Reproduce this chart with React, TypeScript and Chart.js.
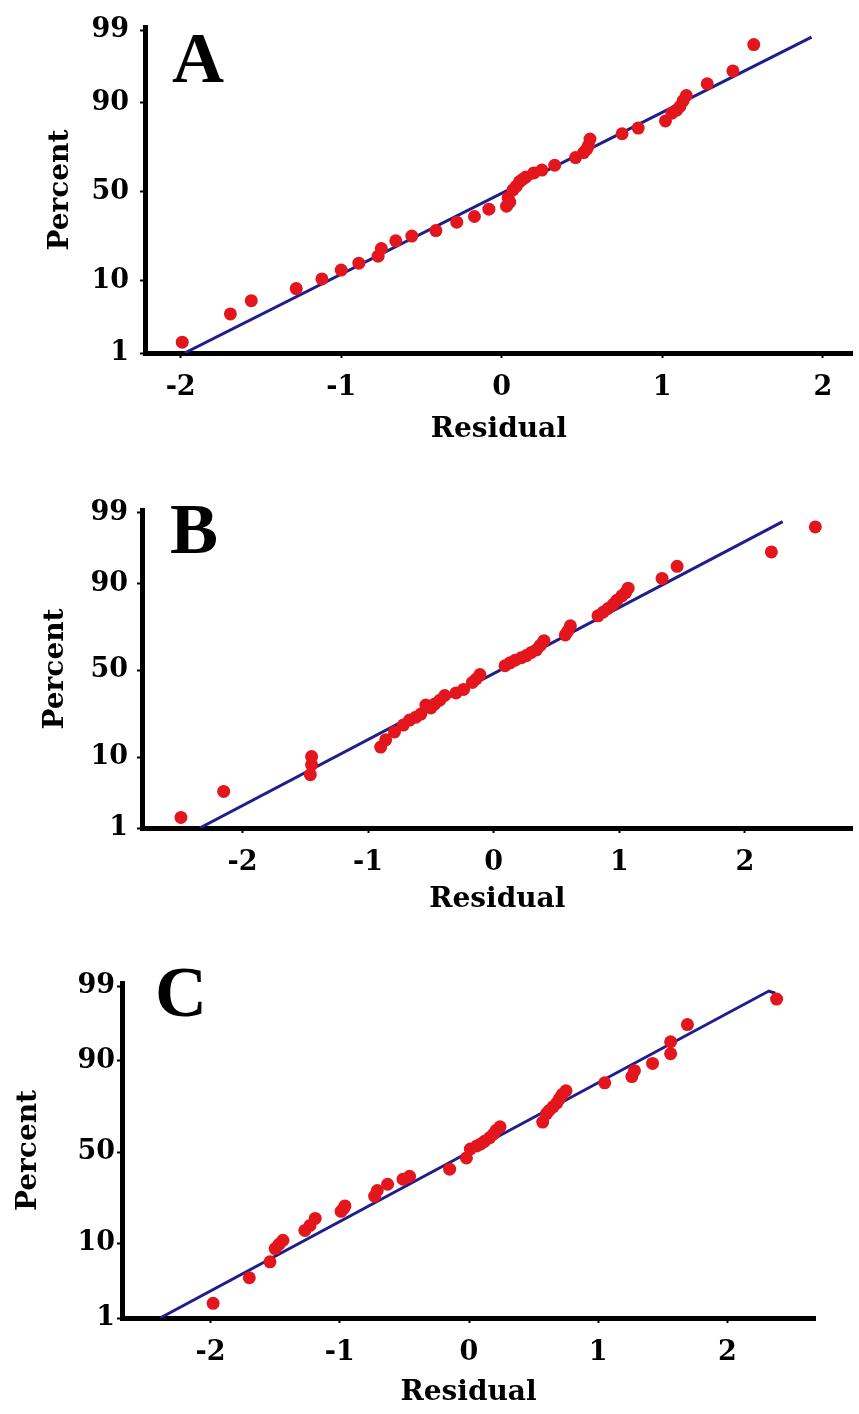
import React, { useEffect, useRef } from "react";
import { Chart, registerables } from "chart.js";

Chart.register(...registerables);

// ---- data ----
const Y_TICK_PERCENTS = [1, 10, 50, 90, 99];
const X_TICKS = [-2.5, -2, -1.5, -1, -0.5, 0, 0.5, 1, 1.5, 2, 2.5];

const A_RESIDUAL = [-1.99, -1.69, -1.56, -1.28, -1.12, -1.0, -0.89, -0.77, -0.75, -0.66, -0.56, -0.41, -0.28, -0.17, -0.08, 0.03, 0.04, 0.05, 0.07, 0.09, 0.11, 0.13, 0.15, 0.2, 0.25, 0.33, 0.46, 0.51, 0.53, 0.54, 0.55, 0.75, 0.85, 1.02, 1.06, 1.09, 1.11, 1.13, 1.15, 1.28, 1.44, 1.57];
const A_PERCENT = [1.5, 3.9, 5.8, 8.1, 10.4, 12.9, 15.1, 17.6, 20.6, 23.9, 26.1, 28.7, 33, 36, 40, 41.7, 46.5, 44, 51, 53, 55.6, 57, 58.3, 60.6, 62.2, 64.8, 68.8, 71.3, 73, 74.6, 77.6, 79.8, 82, 84.6, 87.1, 88, 89, 90.5, 91.7, 94, 95.9, 98.3];
const A_FIT_RESIDUAL = [-1.975, 1.93];
const A_FIT_PERCENT = [1, 98.7];

const B_RESIDUAL = [-2.49, -2.15, -1.46, -1.45, -1.45, -0.9, -0.86, -0.79, -0.72, -0.67, -0.62, -0.58, -0.54, -0.5, -0.47, -0.43, -0.39, -0.3, -0.24, -0.17, -0.14, -0.11, 0.09, 0.13, 0.17, 0.22, 0.26, 0.3, 0.34, 0.37, 0.4, 0.57, 0.59, 0.61, 0.83, 0.87, 0.91, 0.95, 0.98, 1.02, 1.05, 1.07, 1.34, 1.46, 2.21, 2.56];
const B_PERCENT = [1.5, 3.7, 6.2, 8.2, 10.2, 12.9, 15.3, 18.2, 21, 23.2, 24.5, 26, 30.5, 29, 31, 33, 35.6, 37, 39, 43, 45, 47.6, 52.8, 54.5, 56, 57.5, 58.7, 60.5, 62, 64.5, 67, 70, 72, 74.5, 79, 80.5, 82, 83.5, 85, 86.5, 87.5, 88.8, 91.3, 93.8, 96, 98.3];
const B_FIT_RESIDUAL = [-2.34, 2.3];
const B_FIT_PERCENT = [1, 98.6];

const C_RESIDUAL = [-1.98, -1.7, -1.54, -1.5, -1.47, -1.44, -1.27, -1.23, -1.19, -0.99, -0.97, -0.96, -0.73, -0.71, -0.63, -0.51, -0.46, -0.15, -0.02, 0.01, 0.06, 0.09, 0.12, 0.16, 0.19, 0.21, 0.24, 0.57, 0.6, 0.62, 0.65, 0.68, 0.7, 0.72, 0.75, 1.05, 1.26, 1.28, 1.42, 1.56, 1.56, 1.69, 2.38];
const C_PERCENT = [1.7, 3.9, 6.2, 8.8, 9.8, 10.8, 13.6, 15.2, 17.6, 20.3, 21.5, 22.5, 26.8, 29.5, 32.6, 35.2, 36.7, 40.5, 46.7, 51.7, 53.4, 54.5, 56, 58, 60, 62, 63.8, 66.3, 70.5, 72, 73.7, 75.5, 77.3, 79, 80.5, 83.4, 85.5, 87.3, 89.3, 91.6, 93.9, 96.3, 98.4];
const C_FIT_RESIDUAL = [-2.39, 2.32, 2.37];
const C_FIT_PERCENT = [1, 98.8, 98.7];

// inverse normal CDF (percent -> normal score), used for the probability axis
function probit(pct: number): number {
  const p = pct / 100;
  const a = [-3.969683028665376e1, 2.209460984245205e2, -2.759285104469687e2, 1.38357751867269e2, -3.066479806614716e1, 2.506628277459239];
  const b = [-5.447609879822406e1, 1.615858368580409e2, -1.556989798598866e2, 6.680131188771972e1, -1.328068155288572e1];
  const c = [-7.784894002430293e-3, -3.223964580411365e-1, -2.400758277161838, -2.549732539343734, 4.374664141464968, 2.938163982698783];
  const d = [7.784695709041462e-3, 3.224671290700398e-1, 2.445134137142996, 3.754408661907416];
  const plow = 0.02425;
  if (p < plow) {
    const q = Math.sqrt(-2 * Math.log(p));
    return (((((c[0] * q + c[1]) * q + c[2]) * q + c[3]) * q + c[4]) * q + c[5]) / ((((d[0] * q + d[1]) * q + d[2]) * q + d[3]) * q + 1);
  }
  if (p <= 1 - plow) {
    const q = p - 0.5;
    const r = q * q;
    return ((((((a[0] * r + a[1]) * r + a[2]) * r + a[3]) * r + a[4]) * r + a[5]) * q) / (((((b[0] * r + b[1]) * r + b[2]) * r + b[3]) * r + b[4]) * r + 1);
  }
  const q = Math.sqrt(-2 * Math.log(1 - p));
  return -(((((c[0] * q + c[1]) * q + c[2]) * q + c[3]) * q + c[4]) * q + c[5]) / ((((d[0] * q + d[1]) * q + d[2]) * q + d[3]) * q + 1);
}

const AXIS_FONT = '"DejaVu Serif", "Liberation Serif", serif';
const LETTER_FONT = '"Liberation Serif", "Times New Roman", serif';

type PanelCfg = {
  letter: string;
  residual: number[];
  percent: number[];
  fitResidual: number[];
  fitPercent: number[];
  top: number;
  height: number;
  chartTop: number;
  chartBottom: number;
  chartLeft: number;
  chartRight: number;
  xMin: number;
  xMax: number;
  yTickPad: number;
  yTitlePad: number;
  xTitlePad: number;
  letterLeft: number;
  letterTop: number;
};

const PANELS: PanelCfg[] = [
  {
    letter: "A", residual: A_RESIDUAL, percent: A_PERCENT, fitResidual: A_FIT_RESIDUAL, fitPercent: A_FIT_PERCENT,
    top: 0, height: 460, chartTop: 22, chartBottom: 353, chartLeft: 145, chartRight: 859,
    xMin: -2.222, xMax: 2.185, yTickPad: 11, yTitlePad: 44, xTitlePad: 13, letterLeft: 172, letterTop: 22,
  },
  {
    letter: "B", residual: B_RESIDUAL, percent: B_PERCENT, fitResidual: B_FIT_RESIDUAL, fitPercent: B_FIT_PERCENT,
    top: 470, height: 460, chartTop: 510, chartBottom: 828, chartLeft: 142, chartRight: 859,
    xMin: -2.8, xMax: 2.856, yTickPad: 9, yTitlePad: 39, xTitlePad: 13, letterLeft: 170, letterTop: 493,
  },
  {
    letter: "C", residual: C_RESIDUAL, percent: C_PERCENT, fitResidual: C_FIT_RESIDUAL, fitPercent: C_FIT_PERCENT,
    top: 940, height: 474, chartTop: 983, chartBottom: 1318, chartLeft: 122, chartRight: 815,
    xMin: -2.685, xMax: 2.677, yTickPad: 2, yTitlePad: 12, xTitlePad: 4, letterLeft: 155, letterTop: 956,
  },
];

function Panel({ cfg }: { cfg: PanelCfg }) {
  const ref = useRef<HTMLCanvasElement | null>(null);

  useEffect(() => {
    if (!ref.current) return;
    const points = cfg.residual.map((r, i) => ({ x: r, y: probit(cfg.percent[i]) }));
    const fit = cfg.fitResidual.map((r, i) => ({ x: r, y: probit(cfg.fitPercent[i]) }));
    const yTickValues = Y_TICK_PERCENTS.map(probit);
    const xTickValues = X_TICKS.filter((v) => v >= cfg.xMin && v <= cfg.xMax);
    const yAxisWidth = cfg.chartLeft;
    const xAxisHeight = cfg.top + cfg.height - cfg.chartBottom;

    const chart = new Chart(ref.current, {
      type: "scatter",
      data: {
        datasets: [
          {
            data: points,
            backgroundColor: "#e2161c",
            borderColor: "#e2161c",
            borderWidth: 0,
            pointRadius: 6.5,
            pointHoverRadius: 6.5,
            showLine: false,
          },
          {
            data: fit,
            showLine: true,
            borderColor: "#1e1e8c",
            borderWidth: 3,
            pointRadius: 0,
            pointHoverRadius: 0,
            tension: 0,
          },
        ],
      },
      options: {
        animation: false,
        responsive: false,
        devicePixelRatio: 1,
        events: [],
        layout: {
          padding: { top: cfg.chartTop - cfg.top, left: 0, right: 859 - cfg.chartRight, bottom: 0 },
        },
        plugins: { legend: { display: false }, tooltip: { enabled: false }, title: { display: false } },
        scales: {
          x: {
            type: "linear",
            min: cfg.xMin,
            max: cfg.xMax,
            afterBuildTicks: (scale: any) => {
              scale.ticks = xTickValues.map((v) => ({ value: v }));
            },
            afterFit: (scale: any) => {
              scale.height = xAxisHeight;
            },
            border: { display: true, color: "#000", width: 5 },
            grid: {
              display: true,
              drawOnChartArea: false,
              drawTicks: true,
              tickLength: 5,
              tickWidth: 2,
              color: (ctx: any) => (ctx.tick && Number.isInteger(ctx.tick.value) ? "#000" : "rgba(0,0,0,0)"),
            },
            ticks: {
              autoSkip: false,
              maxRotation: 0,
              padding: 14,
              color: "#000",
              font: { family: AXIS_FONT, size: 27, weight: "bold" },
              callback: (v: any) => (Number.isInteger(Number(v)) ? String(v) : ""),
            },
            title: {
              display: true,
              text: "Residual",
              color: "#000",
              font: { family: AXIS_FONT, size: 28, weight: "bold" },
              padding: { top: 0, bottom: cfg.xTitlePad },
            },
          },
          y: {
            type: "linear",
            min: probit(1),
            max: 2.37,
            afterBuildTicks: (scale: any) => {
              scale.ticks = yTickValues.map((v) => ({ value: v }));
            },
            afterFit: (scale: any) => {
              scale.width = yAxisWidth;
            },
            border: { display: true, color: "#000", width: 5 },
            grid: {
              display: true,
              drawOnChartArea: false,
              drawTicks: true,
              tickLength: 5,
              tickWidth: 2,
              color: "#000",
            },
            ticks: {
              autoSkip: false,
              padding: cfg.yTickPad,
              color: "#000",
              font: { family: AXIS_FONT, size: 27, weight: "bold" },
              callback: (_v: any, i: number) => String(Y_TICK_PERCENTS[i]),
            },
            title: {
              display: true,
              text: "Percent",
              color: "#000",
              font: { family: AXIS_FONT, size: 28, weight: "bold" },
              padding: { top: cfg.yTitlePad, bottom: 0 },
            },
          },
        },
      },
    } as any);
    return () => chart.destroy();
  }, [cfg]);

  return (
    <>
      <canvas
        ref={ref}
        width={859}
        height={cfg.height}
        style={{ position: "absolute", left: 0, top: cfg.top, width: 859, height: cfg.height, display: "block" }}
      />
      <div
        style={{
          position: "absolute",
          left: cfg.letterLeft,
          top: cfg.letterTop,
          fontFamily: LETTER_FONT,
          fontWeight: "bold",
          fontSize: 72,
          lineHeight: "72px",
          color: "#000",
          whiteSpace: "nowrap",
        }}
      >
        {cfg.letter}
      </div>
    </>
  );
}

export default function App() {
  return (
    <div style={{ position: "absolute", left: 0, top: 0, width: 859, height: 1414, background: "#fff", overflow: "hidden" }}>
      {PANELS.map((p) => (
        <Panel key={p.letter} cfg={p} />
      ))}
    </div>
  );
}
